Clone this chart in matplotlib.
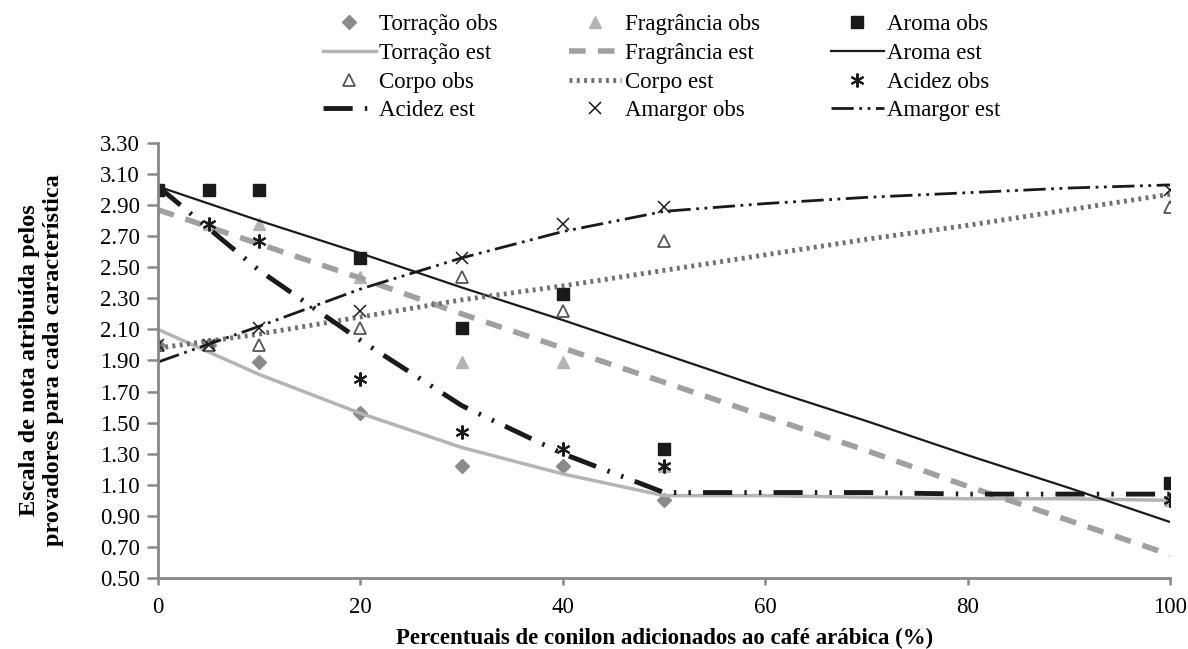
import matplotlib
matplotlib.use("Agg")
from matplotlib import pyplot as plt

plt.rcParams['font.family'] = ['Liberation Serif', 'DejaVu Serif']

# percentuais de conilon
x_obs = [0, 5, 10, 20, 30, 40, 50, 100]

torracao_obs = [2.00, 2.00, 1.89, 1.56, 1.22, 1.22, 1.00, 1.00]
fragrancia_obs = [3.00, 2.78, 2.78, 2.44, 1.89, 1.89, 1.22, 1.00]
aroma_obs = [3.00, 3.00, 3.00, 2.56, 2.11, 2.33, 1.33, 1.11]
corpo_obs = [2.00, 2.00, 2.00, 2.11, 2.44, 2.22, 2.67, 2.89]
acidez_obs = [3.00, 2.78, 2.67, 1.78, 1.44, 1.33, 1.22, 1.00]
amargor_obs = [2.00, 2.00, 2.11, 2.22, 2.56, 2.78, 2.89, 3.00]

# curvas estimadas
x_est = [0, 10, 20, 30, 40, 50, 60, 70, 80, 90, 100]
torracao_est = [2.10, 1.81, 1.56, 1.34, 1.17, 1.03, 1.03, 1.02, 1.01, 1.01, 1.00]
fragrancia_est = [2.87, 2.65, 2.43, 2.20, 1.98, 1.76, 1.54, 1.32, 1.09, 0.87, 0.65]
aroma_est = [3.02, 2.80, 2.59, 2.37, 2.16, 1.94, 1.72, 1.51, 1.29, 1.08, 0.86]
corpo_est = [1.98, 2.07, 2.18, 2.29, 2.38, 2.48, 2.58, 2.68, 2.77, 2.87, 2.97]
acidez_est = [3.02, 2.48, 2.03, 1.61, 1.30, 1.05, 1.05, 1.05, 1.04, 1.04, 1.04]
amargor_est = [1.89, 2.12, 2.36, 2.56, 2.73, 2.86, 2.91, 2.95, 2.98, 3.01, 3.03]

yticks = [0.50, 0.70, 0.90, 1.10, 1.30, 1.50, 1.70, 1.90, 2.10, 2.30, 2.50, 2.70, 2.90, 3.10, 3.30]

fig = plt.figure(figsize=(11.88, 6.49), dpi=100)
ax = fig.add_axes([0.133, 0.1094, 0.852, 0.6703])

h = {}
h['to'] = ax.plot(x_obs, torracao_obs, linestyle='none', marker='D', markersize=7, color='#8a8a8a', label='Torração obs')[0]
h['te'] = ax.plot(x_est, torracao_est, color='#b4b4b4', linewidth=2.5, label='Torração est')[0]
h['fo'] = ax.plot(x_obs, fragrancia_obs, linestyle='none', marker='^', markersize=8, color='#b4b4b4', label='Fragrância obs')[0]
h['fe'] = ax.plot(x_est, fragrancia_est, color='#a0a0a0', linewidth=4, dashes=(3, 2.2), label='Fragrância est')[0]
h['ao'] = ax.plot(x_obs, aroma_obs, linestyle='none', marker='s', markersize=8, color='#1a1a1a', label='Aroma obs')[0]
h['ae'] = ax.plot(x_est, aroma_est, color='#1a1a1a', linewidth=1.6, label='Aroma est')[0]
h['co'] = ax.plot(x_obs, corpo_obs, linestyle='none', marker='^', markersize=8, markerfacecolor='white', markeredgecolor='#555555', markeredgewidth=1.3, label='Corpo obs')[0]
h['ce'] = ax.plot(x_est, corpo_est, color='#707070', linewidth=3.5, linestyle=(0, (0.6, 0.9)), label='Corpo est')[0]
h['aco'] = ax.plot(x_obs, acidez_obs, linestyle='none', marker=(6, 2, 0), markersize=10, markeredgewidth=1.5, color='#1a1a1a', label='Acidez obs')[0]
h['ace'] = ax.plot(x_est, acidez_est, color='#1a1a1a', linewidth=3.5, dashes=(6, 2.5, 0.5, 2.5, 0.5, 2.5), label='Acidez est')[0]
h['amo'] = ax.plot(x_obs, amargor_obs, linestyle='none', marker='x', markersize=9, markeredgewidth=1.1, color='#1a1a1a', label='Amargor obs')[0]
h['ame'] = ax.plot(x_est, amargor_est, color='#1a1a1a', linewidth=2, dashes=(8, 2, 1, 2, 1, 2), label='Amargor est')[0]

ax.set_xlim(0, 100)
ax.set_ylim(0.5, 3.3)
ax.set_xticks([0, 20, 40, 60, 80, 100])
ax.set_yticks(yticks)
ax.set_yticklabels(['%.2f' % v for v in yticks])
ax.tick_params(labelsize=16.5, color='#888888', width=1.8)
ax.tick_params(axis='y', length=8, pad=5)
ax.tick_params(axis='x', length=5, pad=9)

for s in ['top', 'right']:
    ax.spines[s].set_visible(False)
for s in ['left', 'bottom']:
    ax.spines[s].set_color('#888888')
    ax.spines[s].set_linewidth(2)

ax.set_xlabel('Percentuais de conilon adicionados ao café arábica (%)', fontsize=16.5, fontweight='bold', labelpad=7)
ax.set_ylabel('Escala de nota atribuída pelos\nprovadores para cada característica', fontsize=17.5, fontweight='bold', labelpad=26)

order = ['to', 'te', 'co', 'ace', 'fo', 'fe', 'ce', 'amo', 'ao', 'ae', 'aco', 'ame']
handles = [h[k] for k in order]
fig.legend(handles, [k.get_label() for k in handles], ncol=3, frameon=False, fontsize=16.5,
           loc='upper center', bbox_to_anchor=(0.557, 0.985), borderaxespad=0.1, borderpad=0.1,
           handlelength=2.3, columnspacing=3.1, labelspacing=0.33, handletextpad=0.15)

plt.savefig('out.png', dpi=100)
